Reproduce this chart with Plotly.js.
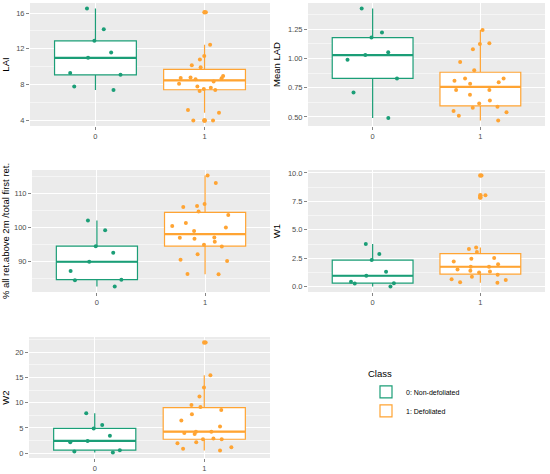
<!DOCTYPE html>
<html>
<head>
<meta charset="utf-8">
<script src="https://cdn.plot.ly/plotly-3.0.1.min.js"></script>
<style>html,body{margin:0;padding:0;background:#fff;}#chart{width:550px;height:474px;}</style>
</head>
<body>
<div id="chart"></div>
<script>
// ---- data ----
const classLabels = ['0', '1'];
const legendNames = ['0: Non-defoliated', '1: Defoliated'];
const panelTitles = ['LAI', 'Mean LAD', '% all ret.above 2m /total first ret.', 'W1', 'W2'];

const lai0 = [16.5, 14.2, 12.9, 11.6, 11.0, 9.3, 9.1, 7.8, 7.4];
const lai1 = [16.1, 12.45, 11.2, 10.8, 10.17, 9.94, 8.97, 8.8, 8.75, 8.7, 8.6, 8.34, 8.1, 7.78, 7.66, 7.5, 7.4, 7.3, 5.15, 4.85, 4.0, 4.0];
const lad0 = [1.428, 1.224, 1.18, 1.055, 1.03, 0.99, 0.83, 0.71, 0.49];
const lad1 = [1.244, 1.13, 1.125, 1.08, 0.97, 0.90, 0.83, 0.83, 0.81, 0.796, 0.785, 0.73, 0.73, 0.69, 0.64, 0.615, 0.587, 0.578, 0.55, 0.54, 0.51, 0.47];
const ret0 = [102.1, 99.2, 94.5, 92.6, 89.9, 87.2, 84.6, 84.4, 82.6];
const ret1 = [115.4, 113.2, 107.0, 106.4, 106.1, 104.8, 103.7, 101.4, 100.5, 100.0, 99.0, 97.1, 97.0, 96.7, 95.8, 94.9, 94.4, 92.1, 90.5, 90.1, 86.3, 86.2];
const w1_0 = [3.75, 2.87, 2.35, 1.32, 0.97, 0.44, 0.32, 0.29, 0.03];
const w1_1 = [9.77, 8.05, 7.85, 3.46, 3.31, 3.05, 2.52, 2.46, 2.23, 1.99, 1.76, 1.76, 1.52, 1.41, 1.35, 1.26, 1.06, 0.88, 0.67, 0.59, 0.41, 0.35];
const w2_0 = [7.9, 5.55, 4.9, 3.46, 2.42, 2.16, 0.59, 0.33, 0.13];
const w2_1 = [21.9, 15.4, 13.0, 11.2, 9.54, 9.15, 8.56, 7.71, 6.47, 5.3, 4.25, 4.25, 4.0, 3.79, 2.88, 2.75, 2.75, 2.16, 1.96, 1.18, 0.85, 0.52];

const yTickVals = [
  [4, 8, 12, 16],
  [0.50, 0.75, 1.00, 1.25],
  [90, 100, 110],
  [0.0, 2.5, 5.0, 7.5, 10.0],
  [0, 5, 10, 15, 20]
];
const yTickText = [
  ['4', '8', '12', '16'],
  ['0.50', '0.75', '1.00', '1.25'],
  ['90', '100', '110'],
  ['0.0', '2.5', '5.0', '7.5', '10.0'],
  ['0', '5', '10', '15', '20']
];

const panelData = [[lai0, lai1], [lad0, lad1], [ret0, ret1], [w1_0, w1_1], [w2_0, w2_1]];

// ---- statistics (R type-7 quantiles, 1.5 IQR whiskers, like ggplot) ----
function quant(sorted, p) {
  const h = (sorted.length - 1) * p;
  const lo = Math.floor(h);
  const hi = Math.min(lo + 1, sorted.length - 1);
  return sorted[lo] + (h - lo) * (sorted[hi] - sorted[lo]);
}
function boxStats(vals) {
  const s = vals.slice().sort((a, b) => a - b);
  const q1 = quant(s, 0.25), med = quant(s, 0.5), q3 = quant(s, 0.75);
  const iqr = q3 - q1;
  const inside = s.filter(v => v >= q1 - 1.5 * iqr && v <= q3 + 1.5 * iqr);
  return {
    q1, med, q3,
    lo: inside[0], hi: inside[inside.length - 1],
    outliers: s.filter(v => v < q1 - 1.5 * iqr || v > q3 + 1.5 * iqr)
  };
}

// ---- styles ----
const colors = ['#1B9E77', '#FFA433'];
const W = 550, H = 474;
const panelsPx = [
  {x: [30, 270], y: [3, 126]},
  {x: [308, 545], y: [3, 126]},
  {x: [32, 270], y: [170, 292]},
  {x: [308, 545], y: [170, 292]},
  {x: [29, 270], y: [337, 458]}
];
const FONT = 'Liberation Sans, Arial, sans-serif';

const traces = [];
const layout = {
  width: W, height: H,
  margin: {l: 0, r: 0, t: 0, b: 0},
  paper_bgcolor: '#FFFFFF',
  plot_bgcolor: '#EBEBEB',
  boxmode: 'overlay',
  font: {family: FONT, color: '#000000'},
  showlegend: true,
  legend: {
    title: {text: 'Class', font: {size: 9.5, color: '#000000'}},
    font: {size: 7, color: '#000000'},
    x: 366 / W, y: 1 - 365 / H, xanchor: 'left', yanchor: 'top',
    bgcolor: 'rgba(0,0,0,0)', tracegroupgap: 0, itemwidth: 30
  }
};

panelData.forEach((pair, p) => {
  const suffix = p === 0 ? '' : String(p + 1);
  const xa = 'x' + suffix, ya = 'y' + suffix;
  const allVals = pair[0].concat(pair[1]);
  const mn = Math.min(...allVals), mx = Math.max(...allVals);
  const pad = (mx - mn) * 0.05;
  const minorStep = (yTickVals[p][1] - yTickVals[p][0]) / 2;

  pair.forEach((vals, c) => {
    const st = boxStats(vals);
    const cls = classLabels[c];
    // box with whiskers
    traces.push({
      type: 'box', x: [cls], xaxis: xa, yaxis: ya,
      q1: [st.q1], median: [st.med], q3: [st.q3], lowerfence: [st.lo], upperfence: [st.hi],
      name: legendNames[c], showlegend: p === 0,
      width: 0.75, whiskerwidth: 0,
      fillcolor: '#FFFFFF',
      line: {color: colors[c], width: 1.2}
    });
    // thicker median line
    traces.push({
      type: 'box', x: [cls], xaxis: xa, yaxis: ya,
      q1: [st.med], median: [st.med], q3: [st.med], lowerfence: [st.med], upperfence: [st.med],
      name: legendNames[c], showlegend: false,
      width: 0.75, whiskerwidth: 0,
      fillcolor: 'rgba(0,0,0,0)',
      line: {color: colors[c], width: 2.2}
    });
    // outliers at the box centre
    if (st.outliers.length) {
      traces.push({
        type: 'scatter', mode: 'markers', xaxis: xa, yaxis: ya,
        x: st.outliers.map(() => cls), y: st.outliers,
        showlegend: false,
        marker: {color: colors[c], size: 4.5, line: {width: 0}}
      });
    }
    // jittered sample points
    traces.push({
      type: 'box', x: vals.map(() => cls), y: vals, xaxis: xa, yaxis: ya,
      name: legendNames[c], showlegend: false,
      boxpoints: 'all', jitter: 0.85, pointpos: 0,
      width: 0.75, whiskerwidth: 0,
      fillcolor: 'rgba(0,0,0,0)',
      line: {color: 'rgba(0,0,0,0)', width: 0},
      marker: {color: colors[c], size: 4, line: {width: 0}}
    });
  });

  const px = panelsPx[p];
  layout['xaxis' + suffix] = {
    domain: [px.x[0] / W, px.x[1] / W],
    anchor: ya,
    type: 'category', categoryarray: classLabels, categoryorder: 'array',
    range: [-0.6, 1.6],
    showgrid: true, gridcolor: '#FFFFFF', gridwidth: 1,
    zeroline: false, showline: false,
    ticks: 'outside', ticklen: 3, tickcolor: '#333333', tickwidth: 0.6,
    tickfont: {size: 7.5, color: '#4D4D4D', family: FONT},
    fixedrange: true
  };
  layout['yaxis' + suffix] = {
    domain: [1 - px.y[1] / H, 1 - px.y[0] / H],
    anchor: xa,
    range: [mn - pad, mx + pad],
    tickmode: 'array', tickvals: yTickVals[p], ticktext: yTickText[p],
    showgrid: true, gridcolor: '#FFFFFF', gridwidth: 1,
    minor: {dtick: minorStep, tick0: yTickVals[p][0], showgrid: true, gridcolor: '#FFFFFF', gridwidth: 0.5, ticks: ''},
    zeroline: false, showline: false,
    ticks: 'outside', ticklen: 3, tickcolor: '#333333', tickwidth: 0.6,
    tickfont: {size: 7.5, color: '#4D4D4D', family: FONT},
    title: {text: panelTitles[p], font: {size: 9.5, color: '#000000', family: FONT}, standoff: 5},
    fixedrange: true
  };
});

Plotly.newPlot('chart', traces, layout, {displayModeBar: false, staticPlot: true});
</script>
</body>
</html>
